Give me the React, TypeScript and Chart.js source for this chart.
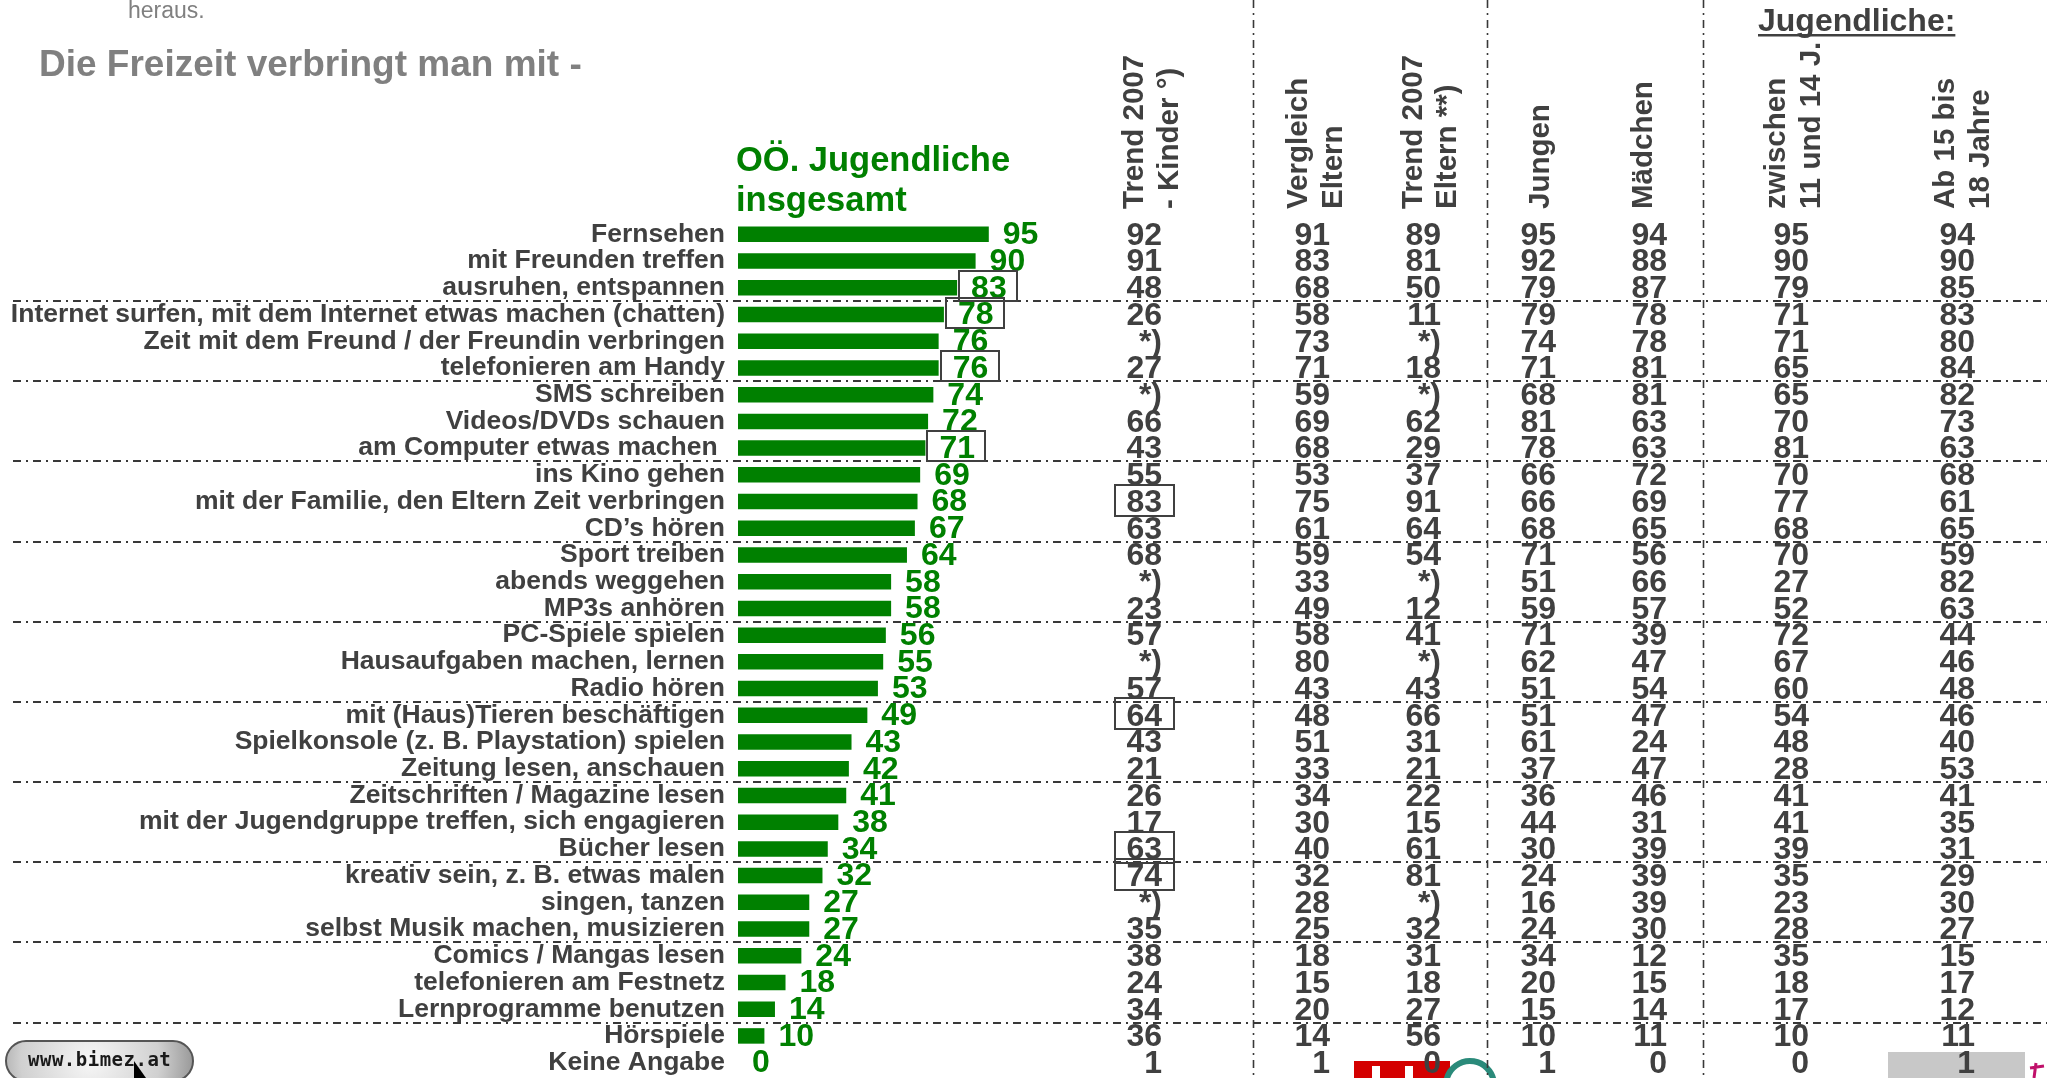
import React, { useEffect, useRef } from 'react';
import { Chart, registerables } from 'chart.js';

Chart.register(...registerables);

// ---------- DATA ----------
const categories = [
  'Fernsehen',
  'mit Freunden treffen',
  'ausruhen, entspannen',
  'Internet surfen, mit dem Internet etwas machen (chatten)',
  'Zeit mit dem Freund / der Freundin verbringen',
  'telefonieren am Handy',
  'SMS schreiben',
  'Videos/DVDs schauen',
  'am Computer etwas machen ',
  'ins Kino gehen',
  'mit der Familie, den Eltern Zeit verbringen',
  'CD’s hören',
  'Sport treiben',
  'abends weggehen',
  'MP3s anhören',
  'PC-Spiele spielen',
  'Hausaufgaben machen, lernen',
  'Radio hören',
  'mit (Haus)Tieren beschäftigen',
  'Spielkonsole (z. B. Playstation) spielen',
  'Zeitung lesen, anschauen',
  'Zeitschriften / Magazine lesen',
  'mit der Jugendgruppe treffen, sich engagieren',
  'Bücher lesen',
  'kreativ sein, z. B. etwas malen',
  'singen, tanzen',
  'selbst Musik machen, musizieren',
  'Comics / Mangas lesen',
  'telefonieren am Festnetz',
  'Lernprogramme benutzen',
  'Hörspiele',
  'Keine Angabe',
];

const totalValues = [95, 90, 83, 78, 76, 76, 74, 72, 71, 69, 68, 67, 64, 58, 58, 56, 55, 53, 49, 43, 42, 41, 38, 34, 32, 27, 27, 24, 18, 14, 10, 0];

// null = "*)"
const trendKinder = [92, 91, 48, 26, null, 27, null, 66, 43, 55, 83, 63, 68, null, 23, 57, null, 57, 64, 43, 21, 26, 17, 63, 74, null, 35, 38, 24, 34, 36, 1];
const vergleichEltern = [91, 83, 68, 58, 73, 71, 59, 69, 68, 53, 75, 61, 59, 33, 49, 58, 80, 43, 48, 51, 33, 34, 30, 40, 32, 28, 25, 18, 15, 20, 14, 1];
const trendEltern = [89, 81, 50, 11, null, 18, null, 62, 29, 37, 91, 64, 54, null, 12, 41, null, 43, 66, 31, 21, 22, 15, 61, 81, null, 32, 31, 18, 27, 56, 0];
const jungen = [95, 92, 79, 79, 74, 71, 68, 81, 78, 66, 66, 68, 71, 51, 59, 71, 62, 51, 51, 61, 37, 36, 44, 30, 24, 16, 24, 34, 20, 15, 10, 1];
const maedchen = [94, 88, 87, 78, 78, 81, 81, 63, 63, 72, 69, 65, 56, 66, 57, 39, 47, 54, 47, 24, 47, 46, 31, 39, 39, 39, 30, 12, 15, 14, 11, 0];
const age11to14 = [95, 90, 79, 71, 71, 65, 65, 70, 81, 70, 77, 68, 70, 27, 52, 72, 67, 60, 54, 48, 28, 41, 41, 39, 35, 23, 28, 35, 18, 17, 10, 0];
const age15to18 = [94, 90, 85, 83, 80, 84, 82, 73, 63, 68, 61, 65, 59, 82, 63, 44, 46, 48, 46, 40, 53, 41, 35, 31, 29, 30, 27, 15, 17, 12, 11, 1];

const columnHeaders = [
  ['Trend 2007', '- Kinder °)'],
  ['Vergleich', 'Eltern'],
  ['Trend 2007', 'Eltern **)'],
  ['Jungen'],
  ['Mädchen'],
  ['zwischen', '11 und 14 J.'],
  ['Ab 15 bis', '18 Jahre'],
];

const boxedTotal = [2, 3, 5, 8];
const boxedTrendKinder = [10, 18, 23, 24];
const groupEnds = [2, 5, 8, 11, 14, 17, 20, 23, 26, 29];

const titleText = 'Die Freizeit verbringt man mit -';
const topFragment = 'heraus.';
const seriesTitle = ['OÖ. Jugendliche', 'insgesamt'];
const groupTitle = 'Jugendliche:';
const linkText = 'www.bimez.at';

// ---------- LAYOUT / STYLE ----------
const W = 2047;
const H = 1078;
const FONT = "'Liberation Sans', Arial, Helvetica, sans-serif";
const GREEN = '#008000';
const DARK = '#404040';
const GRAY = '#808080';

const tableColumns = [trendKinder, vergleichEltern, trendEltern, jungen, maedchen, age11to14, age15to18];
const colRight = [1162, 1330, 1441, 1556, 1667, 1809, 1975];
const headerBaselines = [[1143, 1178], [1307, 1342], [1422, 1456], [1549], [1652], [1785, 1820], [1954, 1989]];
const headerBottom = 209;
const vLines = [1253, 1487, 1703];
const DASH = [8, 5, 2, 5];

function rotatedText(ctx: CanvasRenderingContext2D, text: string, x: number, y: number) {
  ctx.save();
  ctx.translate(x, y);
  ctx.rotate(-Math.PI / 2);
  ctx.textAlign = 'left';
  ctx.textBaseline = 'alphabetic';
  ctx.fillText(text, 0, 0);
  ctx.restore();
}

const overlayPlugin = {
  id: 'overlay',
  beforeDraw(chart: any) {
    const ctx: CanvasRenderingContext2D = chart.ctx;
    ctx.save();
    ctx.fillStyle = '#ffffff';
    ctx.fillRect(0, 0, chart.width, chart.height);

    // link pill
    const px = 6, py = 1041, pw = 187, ph = 44, r = 20;
    const grad = ctx.createRadialGradient(px + pw * 0.45, py + ph * 0.45, 5, px + pw * 0.45, py + ph * 0.45, pw * 0.6);
    grad.addColorStop(0, '#f4f4f4');
    grad.addColorStop(0.6, '#d0d0d0');
    grad.addColorStop(1, '#8a8a8a');
    ctx.beginPath();
    ctx.moveTo(px + r, py);
    ctx.lineTo(px + pw - r, py);
    ctx.arc(px + pw - r, py + r, r, -Math.PI / 2, Math.PI / 2);
    ctx.lineTo(px + r, py + ph);
    ctx.arc(px + r, py + r, r, Math.PI / 2, (3 * Math.PI) / 2);
    ctx.closePath();
    ctx.fillStyle = grad;
    ctx.fill();
    ctx.lineWidth = 2;
    ctx.strokeStyle = '#555';
    ctx.stroke();
    ctx.fillStyle = '#1a1a1a';
    ctx.font = `bold 19px 'DejaVu Sans Mono', monospace`;
    (ctx as any).letterSpacing = '0.5px';
    ctx.textAlign = 'left';
    ctx.textBaseline = 'alphabetic';
    ctx.fillText(linkText, 28, 1066);
    (ctx as any).letterSpacing = '0px';
    // cursor
    ctx.beginPath();
    ctx.moveTo(134, 1061);
    ctx.lineTo(134, 1078);
    ctx.lineTo(146, 1078);
    ctx.closePath();
    ctx.fillStyle = '#000';
    ctx.fill();

    // red logo
    ctx.fillStyle = '#d40000';
    ctx.fillRect(1354, 1061, 96, 17);
    ctx.fillStyle = '#ffffff';
    ctx.fillRect(1372, 1066, 8, 12);
    ctx.fillRect(1405, 1066, 8, 12);
    ctx.beginPath();
    ctx.arc(1470, 1085, 24, Math.PI * 1.05, Math.PI * 1.95);
    ctx.lineWidth = 6;
    ctx.strokeStyle = '#2a8a7a';
    ctx.stroke();
    // gray box
    ctx.fillStyle = '#c8c8c8';
    ctx.fillRect(1888, 1052, 137, 26);
    // magenta mark
    ctx.strokeStyle = '#c0106a';
    ctx.lineWidth = 3;
    ctx.beginPath();
    ctx.moveTo(2036, 1063);
    ctx.lineTo(2034, 1078);
    ctx.moveTo(2030, 1068);
    ctx.lineTo(2044, 1066);
    ctx.stroke();

    // separators
    const ys = chart.scales.y;
    ctx.strokeStyle = '#383838';
    ctx.lineWidth = 2;
    ctx.setLineDash(DASH);
    for (const g of groupEnds) {
      const y = Math.round((ys.getPixelForValue(g) + ys.getPixelForValue(g + 1)) / 2);
      ctx.beginPath();
      ctx.moveTo(13, y);
      ctx.lineTo(W, y);
      ctx.stroke();
    }
    ctx.lineWidth = 1.6;
    for (const x of vLines) {
      ctx.beginPath();
      ctx.moveTo(x + 0.5, 0);
      ctx.lineTo(x + 0.5, H);
      ctx.stroke();
    }
    ctx.setLineDash([]);
    ctx.restore();
  },
  afterDatasetsDraw(chart: any) {
    const ctx: CanvasRenderingContext2D = chart.ctx;
    const ys = chart.scales.y;
    const meta = chart.getDatasetMeta(0);
    ctx.save();

    // value labels
    ctx.font = `bold 32px ${FONT}`;
    ctx.fillStyle = GREEN;
    ctx.textAlign = 'left';
    ctx.textBaseline = 'middle';
    meta.data.forEach((el: any, i: number) => {
      ctx.fillText(String(totalValues[i]), el.x + 14, el.y + 1);
    });
    ctx.strokeStyle = '#404040';
    ctx.lineWidth = 2;
    for (const i of boxedTotal) {
      const el = meta.data[i];
      ctx.strokeRect(Math.round(el.x) + 2, Math.round(el.y) - 17, 58, 30);
    }

    // table
    ctx.font = `bold 32px ${FONT}`;
    ctx.fillStyle = DARK;
    ctx.textAlign = 'right';
    ctx.textBaseline = 'middle';
    tableColumns.forEach((vals, c) => {
      vals.forEach((v, i) => {
        const y = ys.getPixelForValue(i) + 1.5;
        ctx.fillText(v === null ? '*)' : String(v), colRight[c], y);
      });
    });
    for (const i of boxedTrendKinder) {
      const y = ys.getPixelForValue(i);
      ctx.strokeRect(1115, Math.round(y) - 17, 59, 31);
    }

    // column headers
    ctx.font = `bold 29.5px ${FONT}`;
    ctx.fillStyle = DARK;
    columnHeaders.forEach((lines, c) => {
      lines.forEach((t, l) => rotatedText(ctx, t, headerBaselines[c][l], headerBottom));
    });

    // titles
    ctx.textAlign = 'left';
    ctx.textBaseline = 'alphabetic';
    ctx.fillStyle = GRAY;
    ctx.font = `23px ${FONT}`;
    ctx.fillText(topFragment, 128, 18);
    ctx.font = `bold 37px ${FONT}`;
    ctx.fillText(titleText, 39, 76);

    ctx.fillStyle = GREEN;
    ctx.font = `bold 34.5px ${FONT}`;
    ctx.fillText(seriesTitle[0], 736, 171);
    ctx.fillText(seriesTitle[1], 736, 211);

    ctx.fillStyle = DARK;
    ctx.font = `bold 32px ${FONT}`;
    ctx.fillText(groupTitle, 1758, 31);
    const gw = ctx.measureText(groupTitle).width;
    ctx.fillRect(1758, 34, gw, 2.5);

    ctx.restore();
  },
};

export default function App() {
  const ref = useRef<HTMLCanvasElement | null>(null);

  useEffect(() => {
    document.body.style.margin = '0';
    document.body.style.overflow = 'hidden';
    const canvas = ref.current;
    if (!canvas) return;
    const chart = new Chart(canvas, {
      type: 'bar',
      data: {
        labels: categories,
        datasets: [
          {
            data: totalValues,
            backgroundColor: GREEN,
            borderWidth: 0,
            barPercentage: 0.58,
            categoryPercentage: 1,
          },
        ],
      },
      options: {
        indexAxis: 'y',
        responsive: false,
        animation: false,
        devicePixelRatio: 1,
        layout: { padding: { top: 221, bottom: 2, left: 0, right: 1045 } },
        plugins: {
          legend: { display: false },
          tooltip: { enabled: false },
          title: { display: false },
        },
        scales: {
          x: { display: false, min: 0, max: 100 },
          y: {
            grid: { display: false, drawTicks: false, tickLength: 0 },
            border: { display: false },
            ticks: {
              autoSkip: false,
              padding: 13,
              color: DARK,
              font: { family: FONT, size: 26.5, weight: 'bold', lineHeight: 1 },
            },
            afterFit(scale: any) {
              scale.width = 738;
              scale.paddingTop = 0;
              scale.paddingBottom = 0;
            },
          },
        },
      },
      plugins: [overlayPlugin],
    });
    return () => chart.destroy();
  }, []);

  return (
    <div style={{ width: W, height: H, overflow: 'hidden' }}>
      <canvas ref={ref} width={W} height={H} style={{ display: 'block', width: W, height: H }} />
    </div>
  );
}
